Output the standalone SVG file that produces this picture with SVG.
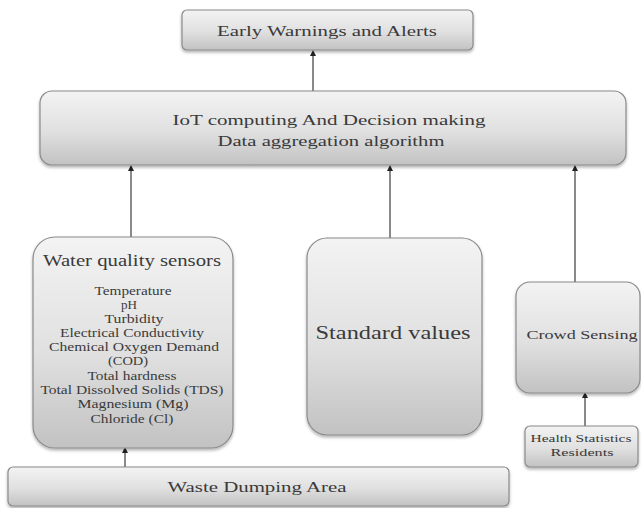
<svg xmlns="http://www.w3.org/2000/svg" width="641" height="508" viewBox="0 0 641 508">
<defs>
<linearGradient id="g" x1="0" y1="0" x2="0" y2="1">
<stop offset="0" stop-color="#f3f3f3"/>
<stop offset="0.55" stop-color="#e0e0e0"/>
<stop offset="1" stop-color="#c2c2c2"/>
</linearGradient>
<filter id="sh" x="-10%" y="-10%" width="120%" height="130%">
<feDropShadow dx="0" dy="2" stdDeviation="1.5" flood-color="#000" flood-opacity="0.3"/>
</filter>
<marker id="ah" viewBox="0 0 6 6" refX="3" refY="3" markerWidth="3" markerHeight="3" orient="auto">
<path d="M0,0 L6,3 L0,6 z" fill="#222"/>
</marker>
</defs>
<style>
.box{fill:url(#g);stroke:#8a8a8a;stroke-width:1.2;filter:url(#sh)}
.t{font-family:"Liberation Serif","Times New Roman",serif;fill:#3a3a3a;text-anchor:middle}
.c{stroke:#8a8a8a;stroke-width:2;fill:none;marker-end:url(#ah)}
</style>
<rect width="641" height="508" fill="#fff"/>
<g id="connectors">
<line class="c" x1="313" y1="91" x2="313" y2="53"/>
<line class="c" x1="131" y1="237" x2="131" y2="168"/>
<line class="c" x1="390" y1="238" x2="390" y2="168"/>
<line class="c" x1="575" y1="283" x2="575" y2="168"/>
<line class="c" x1="585" y1="427" x2="585" y2="395"/>
<line class="c" x1="125" y1="467" x2="125" y2="450"/>
</g>
<g id="early">
<rect class="box" x="182" y="10" width="291" height="40" rx="5"/>
<text class="t" x="327" y="36" font-size="15" textLength="220" lengthAdjust="spacingAndGlyphs">Early Warnings and Alerts</text>
</g>
<g id="iot">
<rect class="box" x="40" y="91" width="586" height="74" rx="12"/>
<text class="t" x="329" y="125" font-size="15" textLength="313" lengthAdjust="spacingAndGlyphs">IoT computing And Decision making</text>
<text class="t" x="331" y="146" font-size="15" textLength="227" lengthAdjust="spacingAndGlyphs">Data aggregation algorithm</text>
</g>
<g id="water">
<rect class="box" x="33" y="237" width="200" height="211" rx="22"/>
<text class="t" x="132" y="266" font-size="16" textLength="178" lengthAdjust="spacingAndGlyphs">Water quality sensors</text>
<text class="t" x="133" y="295" font-size="12" textLength="77" lengthAdjust="spacingAndGlyphs">Temperature</text>
<text class="t" x="129" y="309" font-size="12" textLength="16" lengthAdjust="spacingAndGlyphs">pH</text>
<text class="t" x="134" y="323" font-size="12" textLength="59" lengthAdjust="spacingAndGlyphs">Turbidity</text>
<text class="t" x="132" y="337" font-size="12" textLength="144" lengthAdjust="spacingAndGlyphs">Electrical Conductivity</text>
<text class="t" x="134" y="351" font-size="12" textLength="170" lengthAdjust="spacingAndGlyphs">Chemical Oxygen Demand</text>
<text class="t" x="128" y="365" font-size="12" textLength="40" lengthAdjust="spacingAndGlyphs">(COD)</text>
<text class="t" x="132" y="380" font-size="12" textLength="89" lengthAdjust="spacingAndGlyphs">Total hardness</text>
<text class="t" x="132" y="394" font-size="12" textLength="183" lengthAdjust="spacingAndGlyphs">Total Dissolved Solids (TDS)</text>
<text class="t" x="133" y="408" font-size="12" textLength="111" lengthAdjust="spacingAndGlyphs">Magnesium (Mg)</text>
<text class="t" x="132" y="423" font-size="12" textLength="83" lengthAdjust="spacingAndGlyphs">Chloride (Cl)</text>
</g>
<g id="standard">
<rect class="box" x="307" y="238" width="175" height="197" rx="20"/>
<text class="t" x="393" y="339" font-size="19" textLength="155" lengthAdjust="spacingAndGlyphs">Standard values</text>
</g>
<g id="crowd">
<rect class="box" x="516" y="282" width="124" height="111" rx="14"/>
<text class="t" x="582" y="339" font-size="12" textLength="111" lengthAdjust="spacingAndGlyphs">Crowd Sensing</text>
</g>
<g id="health">
<rect class="box" x="525" y="426" width="113" height="41" rx="5"/>
<text class="t" x="581" y="442" font-size="11" textLength="101" lengthAdjust="spacingAndGlyphs">Health Statistics</text>
<text class="t" x="582" y="456" font-size="11" textLength="63" lengthAdjust="spacingAndGlyphs">Residents</text>
</g>
<g id="waste">
<rect class="box" x="8" y="467" width="501" height="39" rx="5"/>
<text class="t" x="257" y="492" font-size="15" textLength="179" lengthAdjust="spacingAndGlyphs">Waste Dumping Area</text>
</g>
</svg>
